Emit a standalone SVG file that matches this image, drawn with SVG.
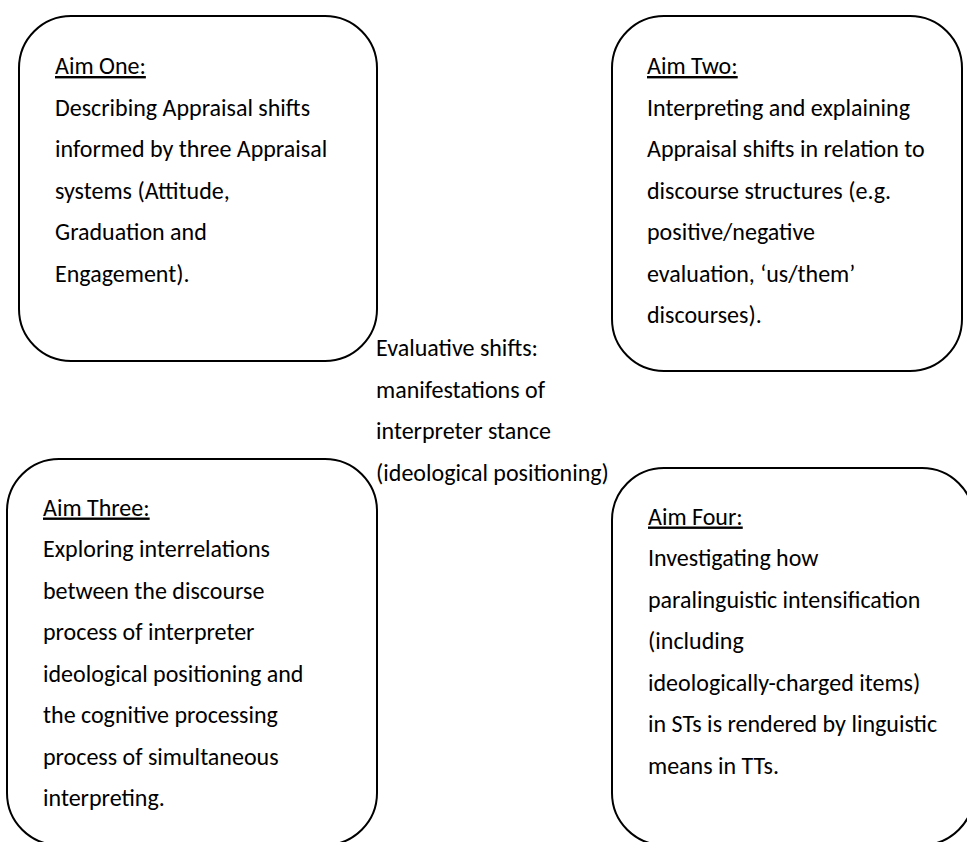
<svg xmlns="http://www.w3.org/2000/svg" width="967" height="842" viewBox="0 0 967 842">
  <style>
    .box { fill: #ffffff; stroke: #000000; stroke-width: 2; }
    text { font-family: Carlito, Calibri, Lato, "Liberation Sans", sans-serif; font-size: 24px; fill: #000000; }
    .head { text-decoration: underline; }
  </style>
  <rect width="967" height="842" fill="#ffffff"/>

  <!-- Aim One -->
  <g id="aim-one">
    <rect class="box" x="19" y="16" width="358" height="345" rx="52" ry="52"/>
    <text x="55" y="74" class="head">Aim One:</text>
    <text x="55" y="115.5">Describing Appraisal shifts</text>
    <text x="55" y="157">informed by three Appraisal</text>
    <text x="55" y="198.5">systems (Attitude,</text>
    <text x="55" y="240">Graduation and</text>
    <text x="55" y="281.5">Engagement).</text>
  </g>

  <!-- Aim Two -->
  <g id="aim-two">
    <rect class="box" x="612" y="16" width="350" height="355" rx="52" ry="52"/>
    <text x="647" y="74" class="head">Aim Two:</text>
    <text x="647" y="115.5">Interpreting and explaining</text>
    <text x="647" y="157">Appraisal shifts in relation to</text>
    <text x="647" y="198.5">discourse structures (e.g.</text>
    <text x="647" y="240">positive/negative</text>
    <text x="647" y="281.5">evaluation, ‘us/them’</text>
    <text x="647" y="323">discourses).</text>
  </g>

  <!-- Central label -->
  <g id="centre-label">
    <text x="376" y="356">Evaluative shifts:</text>
    <text x="376" y="397.5">manifestations of</text>
    <text x="376" y="439">interpreter stance</text>
    <text x="376" y="480.5">(ideological positioning)</text>
  </g>

  <!-- Aim Three -->
  <g id="aim-three">
    <rect class="box" x="7" y="459" width="370" height="386" rx="52" ry="52"/>
    <text x="43" y="515.5" class="head">Aim Three:</text>
    <text x="43" y="557">Exploring interrelations</text>
    <text x="43" y="598.5">between the discourse</text>
    <text x="43" y="640">process of interpreter</text>
    <text x="43" y="681.5">ideological positioning and</text>
    <text x="43" y="723">the cognitive processing</text>
    <text x="43" y="764.5">process of simultaneous</text>
    <text x="43" y="806">interpreting.</text>
  </g>

  <!-- Aim Four -->
  <g id="aim-four">
    <rect class="box" x="612" y="468" width="362" height="377" rx="52" ry="52"/>
    <text x="648" y="524.5" class="head">Aim Four:</text>
    <text x="648" y="566">Investigating how</text>
    <text x="648" y="607.5">paralinguistic intensification</text>
    <text x="648" y="649">(including</text>
    <text x="648" y="690.5">ideologically-charged items)</text>
    <text x="648" y="732">in STs is rendered by linguistic</text>
    <text x="648" y="773.5">means in TTs.</text>
  </g>

  <!-- no connectors are drawn in this figure -->
  <g id="connectors"/>
</svg>
